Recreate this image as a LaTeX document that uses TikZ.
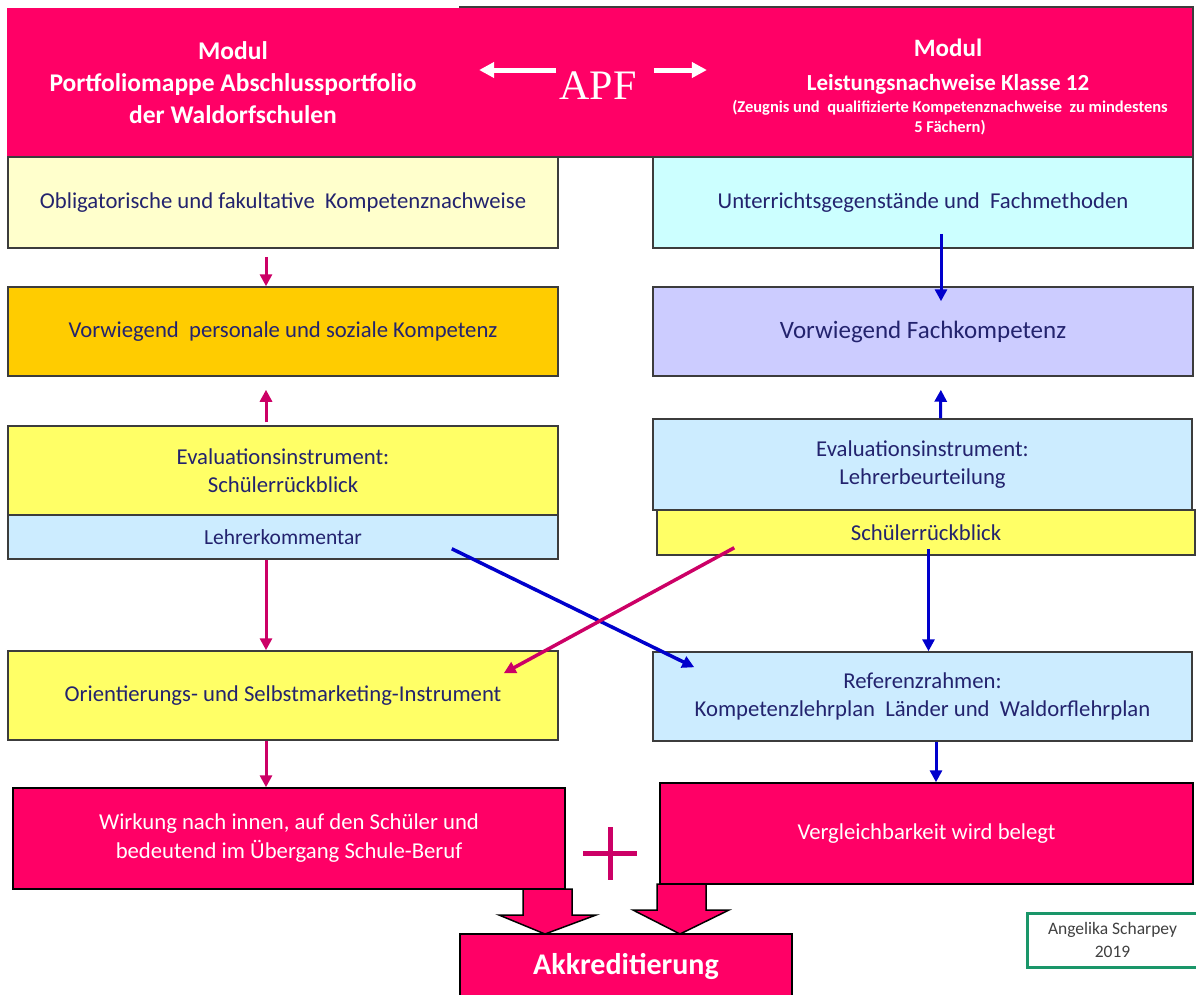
\documentclass[tikz,border=0pt]{standalone}
\usepackage{fontspec}
\setmainfont{Carlito}
\newfontfamily\apffont{Liberation Serif}
\usetikzlibrary{arrows.meta,calc}

\definecolor{modulpink}{RGB}{255,0,102}
\definecolor{arrowpink}{RGB}{204,0,102}
\definecolor{arrowblue}{RGB}{0,0,204}
\definecolor{boxline}{RGB}{60,60,60}
\definecolor{boxtext}{RGB}{35,35,110}
\definecolor{lightyel}{RGB}{255,255,204}
\definecolor{orangebox}{RGB}{255,204,0}
\definecolor{yelbox}{RGB}{255,255,102}
\definecolor{lightblue}{RGB}{204,236,255}
\definecolor{cyanbox}{RGB}{204,255,255}
\definecolor{lavender}{RGB}{204,204,255}
\definecolor{siggreen}{RGB}{26,150,105}
\definecolor{sigtext}{RGB}{64,64,64}

\tikzset{every picture/.style={line width=0.75pt}}
\tikzset{
  box/.style={draw=boxline, line width=1.5pt, inner sep=0pt, align=center, text=boxtext,
    font=\fontsize{22.7}{28}\selectfont, minimum width=550pt, minimum height=89pt},
  pinkbox/.style={box, fill=modulpink, draw=black, text=white},
  hdtext/.style={text=white, align=center, inner sep=0pt, font=\bfseries\fontsize{25.5}{32}\selectfont},
  hdsmall/.style={text=white, align=center, inner sep=0pt, font=\bfseries\fontsize{16.5}{20}\selectfont},
  pinkarrow/.style={draw=arrowpink, line width=3pt, -{Triangle[length=12pt,width=12pt]}},
  bluearrow/.style={draw=arrowblue, line width=3pt, -{Triangle[length=12pt,width=12pt]}},
  whitearrow/.style={draw=white, line width=5pt, -{Triangle[length=15pt,width=15pt]}},
  blockarrow/.style={fill=modulpink, draw=black, line width=1.5pt, line join=miter},
}

\begin{document}
\begin{tikzpicture}[x=1pt,y=1pt,yscale=-1]
\useasboundingbox (0,0) rectangle (1196,994);

% Header
\draw[fill=modulpink, draw=boxline, line width=1.5pt] (460,7) rectangle (1193,157);
\fill[modulpink] (7,8) rectangle (462,156);
\node[hdtext] (hdL) at (233,83) {Modul\\Portfoliomappe Abschlussportfolio\\der Waldorfschulen};
\node[hdtext, font=\bfseries\fontsize{25}{34}\selectfont] (hdR) at (948,67) {Modul\\\fontsize{23}{34}\selectfont Leistungsnachweise Klasse 12};
\node[hdsmall] (hdRsub) at (950,118) {(Zeugnis und\ \ qualifizierte Kompetenznachweise\ \ zu mindestens\\5 Fächern)};
\node[text=white, inner sep=0pt, font=\apffont\fontsize{42}{42}\selectfont] (apf) at (598,86) {APF};
\draw[whitearrow] ($(apf.west)+(-3,-16)$) -- ++(-77,0);
\draw[whitearrow] ($(apf.east)+(17,-16)$) -- ++(53,0);

% Left column
\node[box, fill=lightyel, minimum height=91pt] (oblig) at (283,202.5) {Obligatorische und fakultative\ \ Kompetenznachweise};
\node[box, fill=orangebox] (perskomp) at (283,331.5) {Vorwiegend\ \ personale und soziale Kompetenz};
\node[box, fill=yelbox] (evalL) at (283,470.5) {\raisebox{-5pt}{\parbox{300pt}{\centering Evaluationsinstrument:\\Schülerrückblick}}};
\node[box, fill=lightblue, minimum height=44pt, font=\fontsize{21.5}{26}\selectfont] (lehrkomm) at (283,537) {Lehrerkommentar};
\node[box, fill=yelbox] (orient) at (283,695.5) {Orientierungs- und Selbstmarketing-Instrument};
\node[pinkbox, minimum width=552pt, minimum height=101pt, font=\fontsize{22.7}{29}\selectfont] (wirkung) at (289,838.5) {Wirkung nach innen, auf den Schüler und\\bedeutend im Übergang Schule-Beruf};

% Right column
\node[box, fill=cyanbox, minimum width=540pt, minimum height=91pt] (unterricht) at (923,202.5) {Unterrichtsgegenstände und\ \ Fachmethoden};
\node[box, fill=lavender, minimum width=540pt, font=\fontsize{25}{30}\selectfont] (fachkomp) at (923,331.5) {Vorwiegend Fachkompetenz};
\node[box, fill=lightblue, minimum width=539pt, minimum height=91pt] (evalR) at (922.5,464.5) {Evaluationsinstrument:\\Lehrerbeurteilung};
\node[box, fill=yelbox, minimum width=538pt, minimum height=45pt] (schuelR) at (926,532.5) {Schülerrückblick};
\node[box, fill=lightblue, minimum width=539pt] (referenz) at (922.5,696.5) {Referenzrahmen:\\Kompetenzlehrplan\ \ Länder und\ \ Waldorflehrplan};
\node[pinkbox, minimum width=533pt, minimum height=101pt] (vergleich) at (926.5,833.5) {Vergleichbarkeit wird belegt};

% Straight arrows
\draw[pinkarrow, shorten <=8pt] ([xshift=-17pt]oblig.south) -- ([xshift=-17pt]perskomp.north);
\draw[pinkarrow, shorten <=3pt, shorten >=13pt] ([xshift=-17pt]evalL.north) -- ([xshift=-17pt]perskomp.south);
\draw[pinkarrow] ([xshift=-17pt]lehrkomm.south) -- ([xshift=-17pt]orient.north);
\draw[pinkarrow] ([xshift=-17pt]orient.south) -- ([xshift=-23pt]wirkung.north);

\draw[bluearrow, shorten <=-15pt, shorten >=-15pt] ([xshift=18pt]unterricht.south) -- ([xshift=18pt]fachkomp.north);
\draw[bluearrow, shorten >=13pt] ([xshift=18pt]evalR.north) -- ([xshift=18pt]fachkomp.south);
\draw[bluearrow, shorten <=-7pt] ([xshift=2.5pt]schuelR.south) -- ([xshift=6pt]referenz.north);
\draw[bluearrow] ([xshift=13.5pt]referenz.south) -- ([xshift=9.5pt]vergleich.north);

% Crossing arrows
\draw[bluearrow, line width=3.5pt] ($(lehrkomm.south east)+(-107,-11)$) -- ($(referenz.north west)+(42,16)$);
\draw[pinkarrow, line width=3.5pt] ($(schuelR.south west)+(78,-8)$) -- ($(orient.north east)+(-55,23)$);

% Plus
\draw[arrowpink, line width=5pt] (583,853) -- (637,853) (610,827) -- (610,880);

% Block arrows
\draw[blockarrow] (523,889) -- (572,889) -- (572,915) -- (596,915) -- (545,934) -- (499,915) -- (523,915) -- cycle;
\draw[blockarrow] (657,884) -- (706,884) -- (706,910) -- (729,910) -- (680,934) -- (633,910) -- (657,910) -- cycle;

\node[pinkbox, minimum width=332pt, minimum height=64pt, font=\bfseries\fontsize{30}{34}\selectfont] (akkred) at (626,966) {Akkreditierung};

% Signature
\node[draw=siggreen, line width=3pt, minimum width=171pt, minimum height=54pt, inner sep=0pt, align=center,
  text=sigtext, font=\fontsize{17.5}{23}\selectfont] (signatur) at (1112.5,940) {Angelika Scharpey\\2019};

\end{tikzpicture}
\end{document}
